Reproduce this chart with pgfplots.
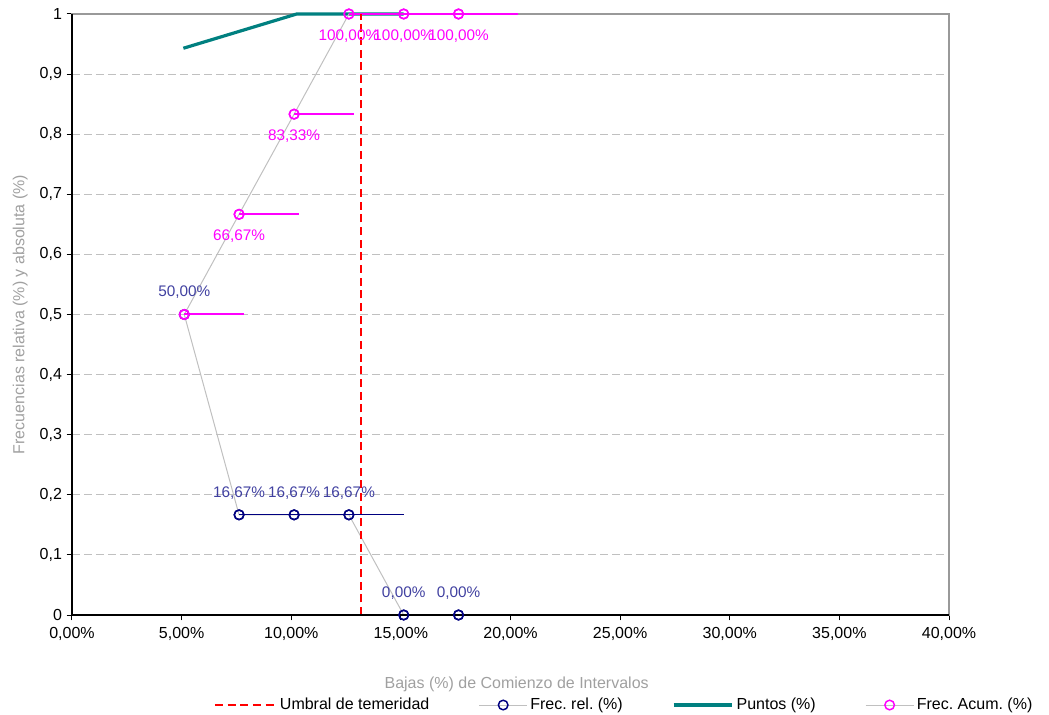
\documentclass[border=0pt]{standalone}
\usepackage{pgfplots}
\pgfplotsset{compat=1.18}
\usepackage{fontspec}
\setmainfont{Liberation Sans}
\definecolor{relblue}{RGB}{64,64,160}
\definecolor{navyc}{RGB}{0,0,128}
\definecolor{tealc}{RGB}{0,128,128}
\definecolor{lgray}{RGB}{192,192,192}
\definecolor{labgray}{RGB}{160,160,160}
\definecolor{magc}{RGB}{255,0,255}
\frenchspacing
\pgfplotsset{
  longleg/.style={legend image code/.code={\draw[##1] (0pt,0pt) -- (#1,0pt);}},
  markleg/.style={legend image code/.code={\draw[mark repeat=2,mark phase=2,##1] plot coordinates {(0pt,0pt) (18pt,0pt) (36pt,0pt)};}},
}
\begin{document}
\begin{tikzpicture}
\begin{axis}[
  name=ax,
  scale only axis,
  width=657.75pt, height=450.75pt,
  xmin=0, xmax=40, ymin=0, ymax=1,
  xtick={0,5,...,40},
  ytick={0,0.1,...,1},
  xtick pos=bottom, ytick pos=left,
  tick align=outside,
  major tick length=4pt,
  major tick style={black, line width=0.75pt},
  axis line style={draw=gray!80, line width=0.9pt},
  ymajorgrids,
  major grid style={lgray, line width=0.75pt, dash pattern=on 6pt off 3pt},
  /pgf/number format/.cd, use comma, assume math mode=true,
  /pgfplots/.cd,
  xticklabel={\pgfmathprintnumber[fixed,fixed zerofill,precision=2,use comma]{\tick}\%},
  yticklabel={\pgfmathprintnumber[fixed,precision=1,use comma]{\tick}},
  tick label style={font=\fontsize{12}{14}\selectfont, black},
  xticklabel style={yshift=-2pt},
  xlabel={Bajas (\%) de Comienzo de Intervalos},
  ylabel={Frecuencias relativa (\%) y absoluta (\%)},
  xlabel style={at={(axis description cs:0.507,-0.115)}, anchor=center, font=\fontsize{12}{14}\selectfont, labgray},
  ylabel style={at={(axis description cs:-0.059,0.5)}, anchor=center, font=\fontsize{12}{14}\selectfont, labgray},
  legend columns=-1,
  legend style={at={(axis description cs:0.157,-0.1498)}, anchor=west, draw=none, fill=none,
    font=\fontsize{12}{14}\selectfont,
    /tikz/every even column/.append style={column sep=35pt}},
  markleg,
  clip=false,
  every node near coord/.append style={font=\fontsize{11.5}{13}\selectfont},
]
\addlegendimage{red, line width=1.5pt, dash pattern=on 6pt off 3.5pt, longleg=46pt}
\addlegendentry{Umbral de temeridad}

% Frec. rel.
\addplot[lgray, line width=0.75pt,
  mark=o, mark size=3.6pt, mark options={draw=navyc, fill=white, line width=1.1pt, solid},
  error bars/.cd, x dir=plus, x explicit, error mark=none,
  error bar style={navyc, line width=1pt}]
  table[x=x, y=y, x error=e] {
x y e
5.12 0.5 2.51
7.62 0.16667 2.51
10.13 0.16667 2.51
12.63 0.16667 2.51
15.13 0 2.51
17.63 0 2.51
};
\addlegendentry{Frec. rel. (\%)}

% Puntos
\addplot[tealc, line width=2.4pt, longleg=44pt]
  coordinates {(5.08,0.943) (10.25,1) (12.63,1) (15.13,1)};
\addlegendentry{Puntos (\%)}

% Frec. Acum.
\addplot[lgray, line width=0.75pt,
  mark=o, mark size=3.6pt, mark options={draw=magc, fill=white, line width=1.1pt, solid},
  error bars/.cd, x dir=plus, x explicit, error mark=none,
  error bar style={magc, line width=1.5pt}]
  table[x=x, y=y, x error=e] {
x y e
5.12 0.5 2.72
7.62 0.66667 2.72
10.13 0.83333 2.72
12.63 1 2.72
15.13 1 2.72
17.63 1 2.72
};
\addlegendentry{Frec. Acum. (\%)}

% markers redrawn on top of error bars
\addplot[only marks, mark=o, mark size=3.6pt, mark options={draw=navyc, fill=white, line width=1.1pt},
  point meta=explicit symbolic, nodes near coords,
  nodes near coords style={anchor=center, yshift=16.5pt, text=relblue}, forget plot]
  table[x=x, y=y, meta=l] {
x y l
7.62 0.16667 16,67\%
10.13 0.16667 16,67\%
12.63 0.16667 16,67\%
15.13 0 0,00\%
17.63 0 0,00\%
};
\addplot[only marks, mark=o, mark size=3.6pt, mark options={draw=magc, fill=white, line width=1.1pt},
  point meta=explicit symbolic, nodes near coords,
  nodes near coords style={anchor=center, yshift=-16.5pt, text=magc}, forget plot]
  table[x=x, y=y, meta=l] {
x y l
7.62 0.66667 66,67\%
10.13 0.83333 83,33\%
12.63 1 100,00\%
15.13 1 100,00\%
17.63 1 100,00\%
};
\addplot[only marks, mark=o, mark size=3.6pt, mark options={draw=magc, fill=white, line width=1.1pt},
  point meta=explicit symbolic, nodes near coords,
  nodes near coords style={anchor=center, yshift=16.5pt, text=relblue}, forget plot]
  table[x=x, y=y, meta=l] {
x y l
5.12 0.5 50,00\%
};

% Umbral de temeridad
\addplot[red, line width=1.5pt, dash pattern=on 6pt off 3.5pt, forget plot] coordinates {(13.18,0) (13.18,1)};

\draw[black, line width=0.9pt] (rel axis cs:0,1) -- (rel axis cs:0,0) -- (rel axis cs:1,0);
\end{axis}
\pgfresetboundingbox
\path ([shift={(-54pt,-74.25pt)}]ax.south west) rectangle ([shift={(75pt,10.5pt)}]ax.north east);
\end{tikzpicture}
\end{document}
